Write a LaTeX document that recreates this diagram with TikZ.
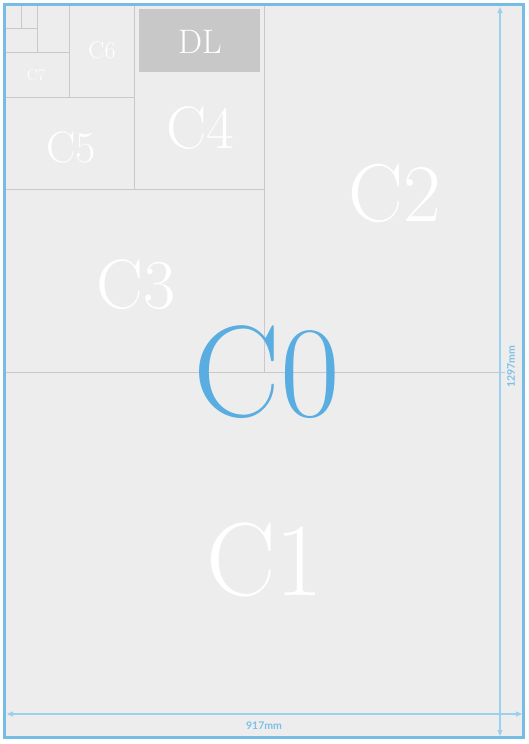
\documentclass[tikz,border=0pt]{standalone}
\usepackage{fontspec}
\newfontfamily\dimfont{Lato}
\usepackage{xcolor}
\usetikzlibrary{arrows.meta}
\definecolor{paperbg}{HTML}{EDEDED}
\definecolor{frameblue}{HTML}{76BDE6}
\definecolor{dimblue}{HTML}{9CD0EF}
\definecolor{labelblue}{HTML}{7CC0E8}
\definecolor{gridgray}{HTML}{C9C9C9}
\definecolor{dlgray}{HTML}{C8C8C8}
\definecolor{czeroblue}{HTML}{5AADE0}

\begin{document}
\begin{tikzpicture}[
    x=1pt, y=-1pt,
    gridline/.style={draw=gridgray, line width=0.8pt},
    sizelabel/.style={text=white, inner sep=0pt},
    dimline/.style={draw=dimblue, line width=1.2pt, {Triangle[length=6pt,width=5pt]}-{Triangle[length=6pt,width=5pt]}},
    dimtext/.style={text=labelblue, font=\dimfont\bfseries\fontsize{10.5}{11}\selectfont, inner sep=1pt}
]
\useasboundingbox (0,0) rectangle (529,744);

% Paper and frame
\fill[white] (0,0) rectangle (529,744);
\fill[paperbg] (4.4,4.6) rectangle (523,737.7);

% DL envelope
\fill[dlgray] (139,9) rectangle (260,71.5);

% Sheet divisions
\draw[gridline] (264,6) -- (264,372);
\draw[gridline] (6,372) -- (505,372);
\draw[gridline] (6,189) -- (264,189);
\draw[gridline] (134,6) -- (134,189);
\draw[gridline] (6,97) -- (134,97);
\draw[gridline] (69,6) -- (69,97);
\draw[gridline] (6,52) -- (69,52);
\draw[gridline] (37,6) -- (37,52);
\draw[gridline] (6,28) -- (37,28);
\draw[gridline] (21,6) -- (21,28);

% Size labels
\node[sizelabel, font=\fontsize{16}{16}\selectfont] (c7) at (36,75) {C7};
\node[sizelabel, font=\fontsize{24}{24}\selectfont] (c6) at (102,50) {C6};
\node[sizelabel, font=\fontsize{34}{34}\selectfont] (dl) at (200,42) {DL};
\node[sizelabel, font=\fontsize{44}{44}\selectfont] (c5) at (71,147) {C5};
\node[sizelabel, font=\fontsize{60}{60}\selectfont] (c4) at (200,128) {C4};
\node[sizelabel, font=\fontsize{70}{70}\selectfont] (c3) at (136,285) {C3};
\node[sizelabel, font=\fontsize{82}{82}\selectfont] (c2) at (395,193) {C2};
\node[sizelabel, font=\fontsize{104}{104}\selectfont] (c1) at (265,560) {C1};
\node[text=czeroblue, font=\fontsize{130}{130}\selectfont, inner sep=0pt] (c0) at (267,372) {C0};

% Dimensions
\coordinate (vtop) at (500,7);
\coordinate (vbot) at (500,736);
\coordinate (hleft) at (7,714);
\coordinate (hright) at (522,714);
\draw[dimline] (vtop) -- (vbot);
\draw[dimline] (hleft) -- (hright);
\node[dimtext, rotate=90] (height) at (511,367) {1297mm};
\node[dimtext] (width) at (264,725.5) {917mm};

% Frame
\draw[frameblue, line width=3pt] (4.4,4.6) rectangle (523,737.7);
\end{tikzpicture}
\end{document}
